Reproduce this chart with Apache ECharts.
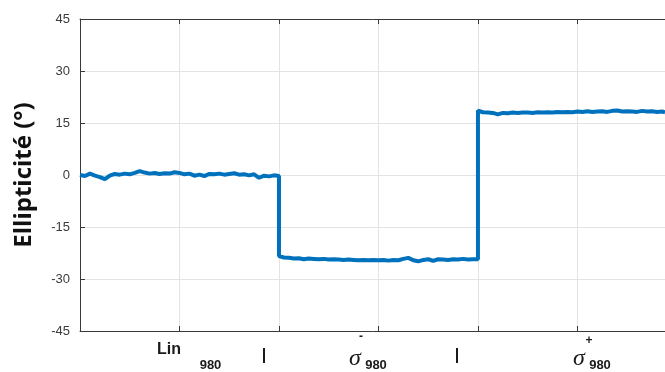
<!DOCTYPE html>
<html>
<head>
<meta charset="utf-8">
<script src="https://cdn.jsdelivr.net/npm/echarts@6/dist/echarts.min.js"></script>
<style>
html,body{margin:0;padding:0;background:#fff;}
#chart{width:665px;height:372px;}
</style>
</head>
<body>
<div id="chart"></div>
<script>
// Measurement positions (x axis, arbitrary units) and ellipticity values (degrees)
var xs = [
  0.00,0.05,0.10,0.15,0.20,0.25,0.30,0.35,0.40,0.45,0.50,0.55,0.60,0.65,0.70,0.75,0.80,0.85,0.90,0.95,
  1.00,1.05,1.10,1.15,1.20,1.25,1.30,1.35,1.40,1.45,1.50,1.55,1.60,1.65,1.70,1.75,1.80,1.85,1.90,1.95,2.00,
  2.00,2.05,2.10,2.15,2.20,2.25,2.30,2.35,2.40,2.45,2.50,2.55,2.60,2.65,2.70,2.75,2.80,2.85,2.90,2.95,
  3.00,3.05,3.10,3.15,3.20,3.25,3.30,3.35,3.40,3.45,3.50,3.55,3.60,3.65,3.70,3.75,3.80,3.85,3.90,3.95,4.00,
  4.00,4.05,4.10,4.15,4.20,4.25,4.30,4.35,4.40,4.45,4.50,4.55,4.60,4.65,4.70,4.75,4.80,4.85,4.90,4.95,
  5.00,5.05,5.10,5.15,5.20,5.25,5.30,5.35,5.40,5.45,5.50,5.55,5.60,5.65,5.70,5.75,5.80,5.85,5.88
];
var ys = [
  0.0,-0.3,0.4,-0.2,-0.6,-1.2,-0.2,0.3,0.1,0.4,0.2,0.6,1.1,0.7,0.4,0.6,0.3,0.5,0.4,0.8,
  0.6,0.2,0.4,-0.2,0.1,-0.3,0.3,0.2,0.4,0.1,0.3,0.5,0.1,0.2,-0.1,0.2,-0.8,-0.2,-0.4,-0.1,-0.3,
  -23.4,-23.8,-23.9,-24.1,-24.0,-24.3,-24.1,-24.2,-24.3,-24.2,-24.4,-24.3,-24.4,-24.5,-24.4,-24.5,-24.6,-24.5,-24.6,-24.5,
  -24.6,-24.5,-24.7,-24.5,-24.6,-24.2,-23.9,-24.6,-24.9,-24.5,-24.3,-24.8,-24.3,-24.4,-24.5,-24.3,-24.4,-24.2,-24.4,-24.3,-24.3,
  18.6,18.1,18.0,17.9,17.5,17.9,17.8,18.0,17.9,18.0,18.0,17.9,18.1,18.0,18.1,18.0,18.2,18.1,18.2,18.1,
  18.3,18.2,18.4,18.2,18.3,18.4,18.2,18.5,18.6,18.3,18.4,18.3,18.2,18.5,18.3,18.4,18.2,18.3,18.1
];
var yTicks = [-45,-30,-15,0,15,30,45];
var yAxisName = 'Ellipticité (°)';
var xLabelLin = 'Lin';
var xLabelSigma = 'σ';
var xLabelSub = '980';
var xLabelSep = '|';

var chart = echarts.init(document.getElementById('chart'));
var data = xs.map(function(x,i){return [x, ys[i]];});
var axisColor = '#3a3a3a';
var tickFont = '"Liberation Sans", Arial, sans-serif';

function t(text, x, y, font, opts){
  opts = opts || {};
  return {type:'text', x:x, y:y, silent:true, style:{
    text:text, font:font, fill:opts.fill || '#1a1a1a',
    align: opts.align || 'center', verticalAlign:'middle'}};
}

var option = {
  animation:false,
  backgroundColor:'#fff',
  grid:{left:80, right:0, top:19, bottom:41, containLabel:false},
  xAxis:[{
    type:'value', min:0, max:5.88, interval:1, position:'bottom',
    axisLine:{show:true, onZero:false, lineStyle:{color:axisColor, width:1}},
    axisTick:{show:true, inside:true, length:5, lineStyle:{color:axisColor}},
    axisLabel:{show:false},
    splitLine:{show:true, lineStyle:{color:'#e3e3e3', width:1}}
  },{
    type:'value', min:0, max:5.88, interval:1, position:'top',
    axisLine:{show:true, onZero:false, lineStyle:{color:axisColor, width:1}},
    axisTick:{show:true, inside:true, length:5, lineStyle:{color:axisColor}},
    axisLabel:{show:false},
    splitLine:{show:false}
  }],
  yAxis:{
    type:'value', min:yTicks[0], max:yTicks[yTicks.length-1], interval:15,
    name:yAxisName, nameLocation:'middle', nameGap:44, nameRotate:90,
    nameTextStyle:{fontFamily:'"Open Sans", sans-serif', fontWeight:'bold', fontSize:24, color:'#111'},
    axisLine:{show:true, onZero:false, lineStyle:{color:axisColor, width:1}},
    axisTick:{show:true, inside:true, length:5, lineStyle:{color:axisColor}},
    axisLabel:{show:true, margin:10, fontSize:13, color:'#3c3c3c', fontFamily:tickFont},
    splitLine:{show:true, lineStyle:{color:'#e3e3e3', width:1}}
  },
  series:[{
    type:'line', xAxisIndex:0, data:data, showSymbol:false, symbol:'none',
    lineStyle:{color:'#0072BD', width:4}, clip:true
  }],
  graphic:[
    t(xLabelLin, 169, 350, 'bold 16px "Liberation Sans", Arial, sans-serif'),
    t(xLabelSub, 210.5, 365, 'bold 13px "Liberation Sans", Arial, sans-serif'),
    t(xLabelSep, 264, 356, 'bold 16px "Liberation Sans", Arial, sans-serif'),
    t('-', 361, 337, 'bold 12px "Liberation Sans", Arial, sans-serif'),
    t(xLabelSigma, 355, 359, 'italic 24px "Liberation Serif", "DejaVu Serif", serif'),
    t(xLabelSub, 376, 365, 'bold 13px "Liberation Sans", Arial, sans-serif'),
    t(xLabelSep, 457, 356, 'bold 16px "Liberation Sans", Arial, sans-serif'),
    t('+', 589, 341, 'bold 12px "Liberation Sans", Arial, sans-serif'),
    t(xLabelSigma, 579, 359, 'italic 24px "Liberation Serif", "DejaVu Serif", serif'),
    t(xLabelSub, 600, 365, 'bold 13px "Liberation Sans", Arial, sans-serif')
  ]
};
chart.setOption(option);
</script>
</body>
</html>
